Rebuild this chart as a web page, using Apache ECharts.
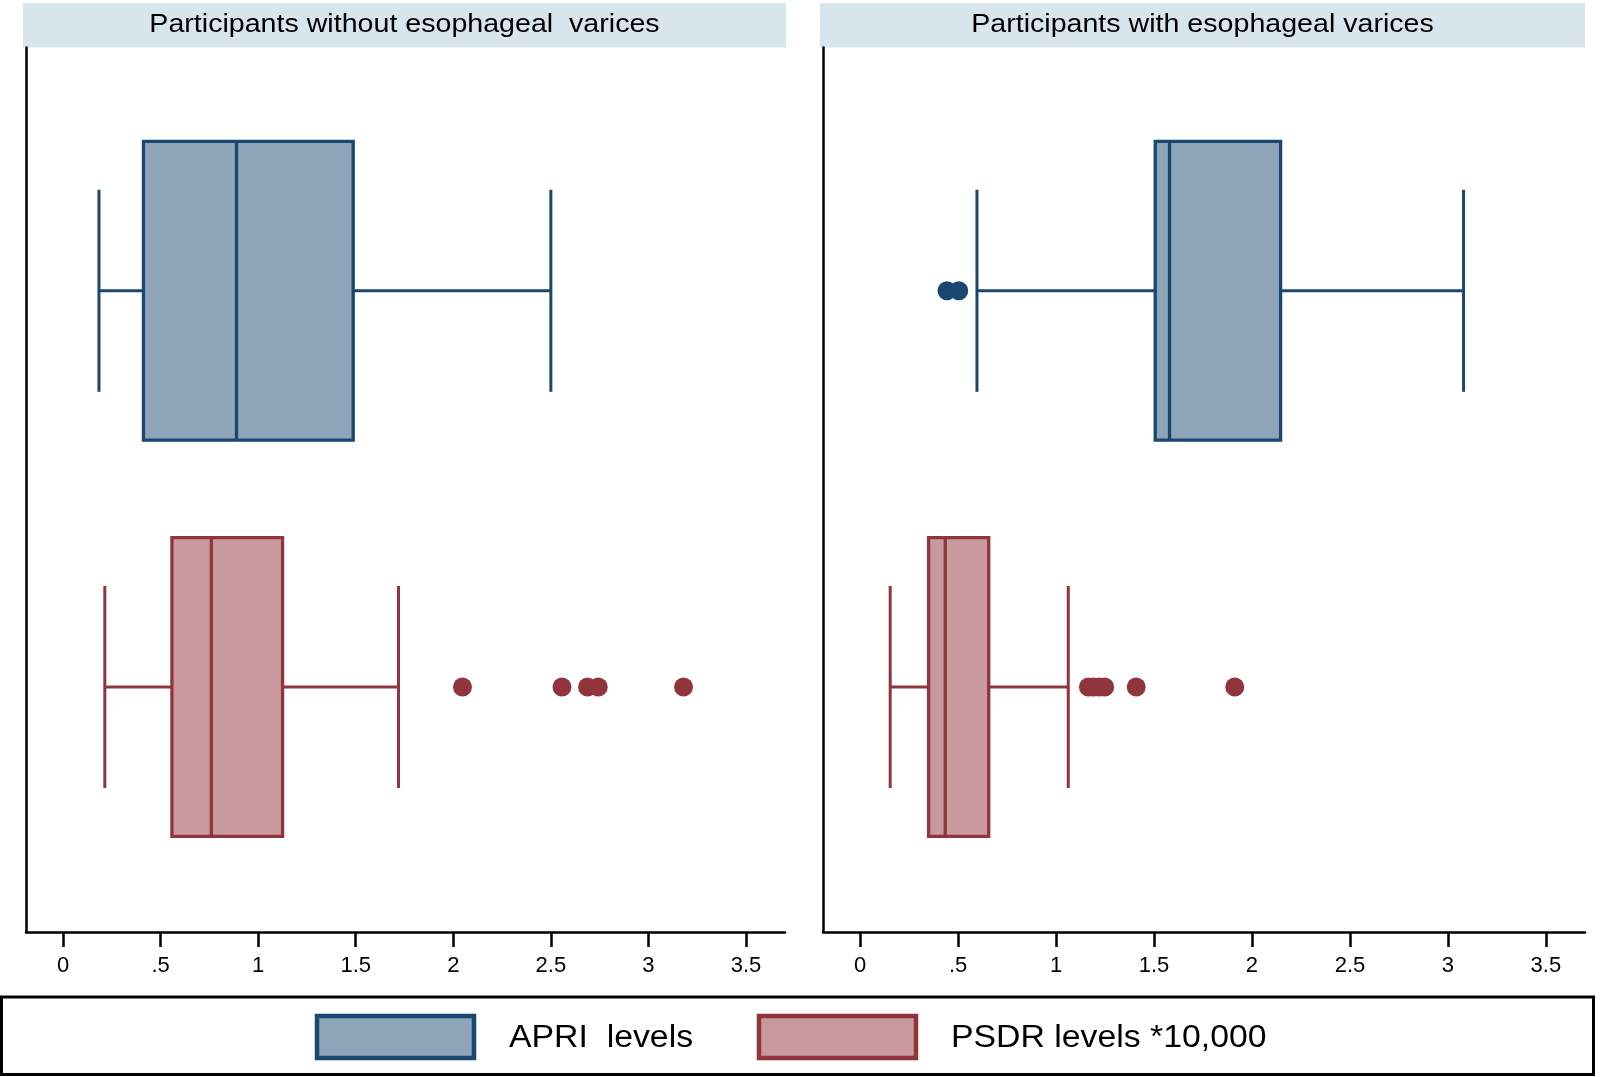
<!DOCTYPE html>
<html>
<head>
<meta charset="utf-8">
<script src="https://cdn.jsdelivr.net/npm/echarts@6/dist/echarts.min.js"></script>
<style>
html,body{margin:0;padding:0;background:#fff;}
#chart{width:1600px;height:1077px;}
</style>
</head>
<body>
<div id="chart"></div>
<script>
// ---------------- DATA ----------------
const panelTitles = ['Participants without esophageal  varices', 'Participants with esophageal varices'];
const categories = ['APRI  levels', 'PSDR levels *10,000'];
const xTicks = [0, 0.5, 1, 1.5, 2, 2.5, 3, 3.5];
// [lower whisker, Q1, median, Q3, upper whisker]
const apriWithout = [0.184, 0.412, 0.889, 1.487, 2.50];
const psdrWithout = [0.214, 0.558, 0.760, 1.125, 1.719];
const apriWith = [0.596, 1.506, 1.579, 2.146, 3.080];
const psdrWith = [0.153, 0.349, 0.434, 0.656, 1.062];
// outliers
const apriWithoutOutliers = [];
const psdrWithoutOutliers = [2.047, 2.557, 2.688, 2.743, 3.180];
const apriWithOutliers = [0.443, 0.503];
const psdrWithOutliers = [1.165, 1.190, 1.220, 1.248, 1.409, 1.912];

// ---------------- STYLE ----------------
const NAVY = '#1a476f', NAVY_FILL = '#8ea5b9';
const MAROON = '#90353b', MAROON_FILL = '#c89a9e';
const XMIN = -0.19, XMAX = 3.70;
const panels = [
  {left: 26, width: 759, bandL: 23, bandR: 786},
  {left: 823, width: 762, bandL: 820, bandR: 1585}
];
const FRAME_TOP = 47.5, FRAME_BOTTOM = 932;
const DATA_TOP = 92.7, DATA_H = 792.4;
const FONT = 'Liberation Sans, Arial, sans-serif';

const chart = echarts.init(document.getElementById('chart'), null, {renderer: 'canvas'});

function fmt(v) { return v === 0 ? '0' : String(v).replace(/^0\./, '.'); }

function boxRenderer(stroke, fill) {
  return function (params, api) {
    const cat = api.value(0);
    const vals = [api.value(1), api.value(2), api.value(3), api.value(4), api.value(5)];
    const px = vals.map(v => api.coord([v, cat])[0]);
    const cy = api.coord([vals[2], cat])[1];
    const band = api.size([0, 1])[1];
    const hb = band * 0.377, hc = band * 0.255;
    const ls = {stroke: stroke, lineWidth: 3};
    return {
      type: 'group',
      children: [
        {type: 'line', shape: {x1: px[0], y1: cy, x2: px[1], y2: cy}, style: ls},
        {type: 'line', shape: {x1: px[3], y1: cy, x2: px[4], y2: cy}, style: ls},
        {type: 'line', shape: {x1: px[0], y1: cy - hc, x2: px[0], y2: cy + hc}, style: ls},
        {type: 'line', shape: {x1: px[4], y1: cy - hc, x2: px[4], y2: cy + hc}, style: ls},
        {type: 'rect', shape: {x: px[1], y: cy - hb, width: px[3] - px[1], height: 2 * hb},
          style: {fill: fill, stroke: stroke, lineWidth: 3.3}},
        {type: 'line', shape: {x1: px[2], y1: cy - hb, x2: px[2], y2: cy + hb}, style: {stroke: stroke, lineWidth: 3.3}}
      ]
    };
  };
}

const grid = [], xAxis = [], yAxis = [], series = [];
panels.forEach((p, i) => {
  grid.push({left: p.left, width: p.width, top: FRAME_TOP, height: FRAME_BOTTOM - FRAME_TOP});
  grid.push({left: p.left, width: p.width, top: DATA_TOP, height: DATA_H});
  xAxis.push({
    gridIndex: 2 * i, type: 'value', min: XMIN, max: XMAX,
    axisLine: {show: true, lineStyle: {color: '#000', width: 2.5}},
    axisTick: {show: true, customValues: xTicks, length: 15, lineStyle: {color: '#000', width: 2.5}},
    axisLabel: {show: true, customValues: xTicks, formatter: fmt, color: '#000', fontSize: 22,
      fontFamily: FONT, margin: 23},
    splitLine: {show: false}
  });
  xAxis.push({gridIndex: 2 * i + 1, type: 'value', min: XMIN, max: XMAX, show: false});
  yAxis.push({
    gridIndex: 2 * i, type: 'value', min: 0, max: 1,
    axisLine: {show: true, onZero: false, lineStyle: {color: '#000', width: 2.5}},
    axisTick: {show: false}, axisLabel: {show: false}, splitLine: {show: false}
  });
  yAxis.push({gridIndex: 2 * i + 1, type: 'category', data: categories, inverse: true, show: false});
});

const boxes = [
  [apriWithout, psdrWithout],
  [apriWith, psdrWith]
];
const outs = [
  [apriWithoutOutliers, psdrWithoutOutliers],
  [apriWithOutliers, psdrWithOutliers]
];
const colors = [[NAVY, NAVY_FILL], [MAROON, MAROON_FILL]];

boxes.forEach((pair, i) => {
  pair.forEach((stats, c) => {
    series.push({
      type: 'custom', name: categories[c],
      xAxisIndex: 2 * i + 1, yAxisIndex: 2 * i + 1,
      renderItem: boxRenderer(colors[c][0], colors[c][1]),
      encode: {x: [1, 2, 3, 4, 5], y: 0},
      data: [[c].concat(stats)],
      silent: true, z: 2
    });
    const o = outs[i][c];
    if (o.length) {
      series.push({
        type: 'scatter', name: categories[c] + ' outliers',
        xAxisIndex: 2 * i + 1, yAxisIndex: 2 * i + 1,
        symbol: 'circle', symbolSize: 19,
        itemStyle: {color: colors[c][0], opacity: 1},
        data: o.map(v => [v, c]),
        silent: true, z: 3
      });
    }
  });
});

const graphic = [];
panels.forEach((p, i) => {
  graphic.push({
    type: 'rect', shape: {x: p.bandL, y: 3, width: p.bandR - p.bandL, height: 44.5},
    style: {fill: '#d9e5ec'}, z: 0
  });
  graphic.push({
    type: 'text', x: (p.bandL + p.bandR) / 2, y: 25, scaleX: 1.1, scaleY: 1,
    style: {text: panelTitles[i], fill: '#000', fontSize: 26,
      fontFamily: FONT, align: 'center', verticalAlign: 'middle'},
    z: 1
  });
});
graphic.push({
  type: 'rect', shape: {x: 1.5, y: 997, width: 1592, height: 77.5},
  style: {fill: 'none', stroke: '#000', lineWidth: 3}, z: 1
});
const legendItems = [
  {key: 315, text: 509, stroke: NAVY, fill: NAVY_FILL, label: categories[0]},
  {key: 757, text: 951, stroke: MAROON, fill: MAROON_FILL, label: categories[1]}
];
legendItems.forEach(it => {
  graphic.push({
    type: 'rect', shape: {x: it.key + 2, y: 1016, width: 157, height: 42},
    style: {fill: it.fill, stroke: it.stroke, lineWidth: 4.5}, z: 1
  });
  graphic.push({
    type: 'text', x: it.text, y: 1038, scaleX: 1.09, scaleY: 1,
    style: {text: it.label, fill: '#000', fontSize: 31,
      fontFamily: FONT, align: 'left', verticalAlign: 'middle'},
    z: 1
  });
});

chart.setOption({
  animation: false,
  backgroundColor: '#fff',
  grid: grid,
  xAxis: xAxis,
  yAxis: yAxis,
  series: series,
  graphic: graphic
});
</script>
</body>
</html>
